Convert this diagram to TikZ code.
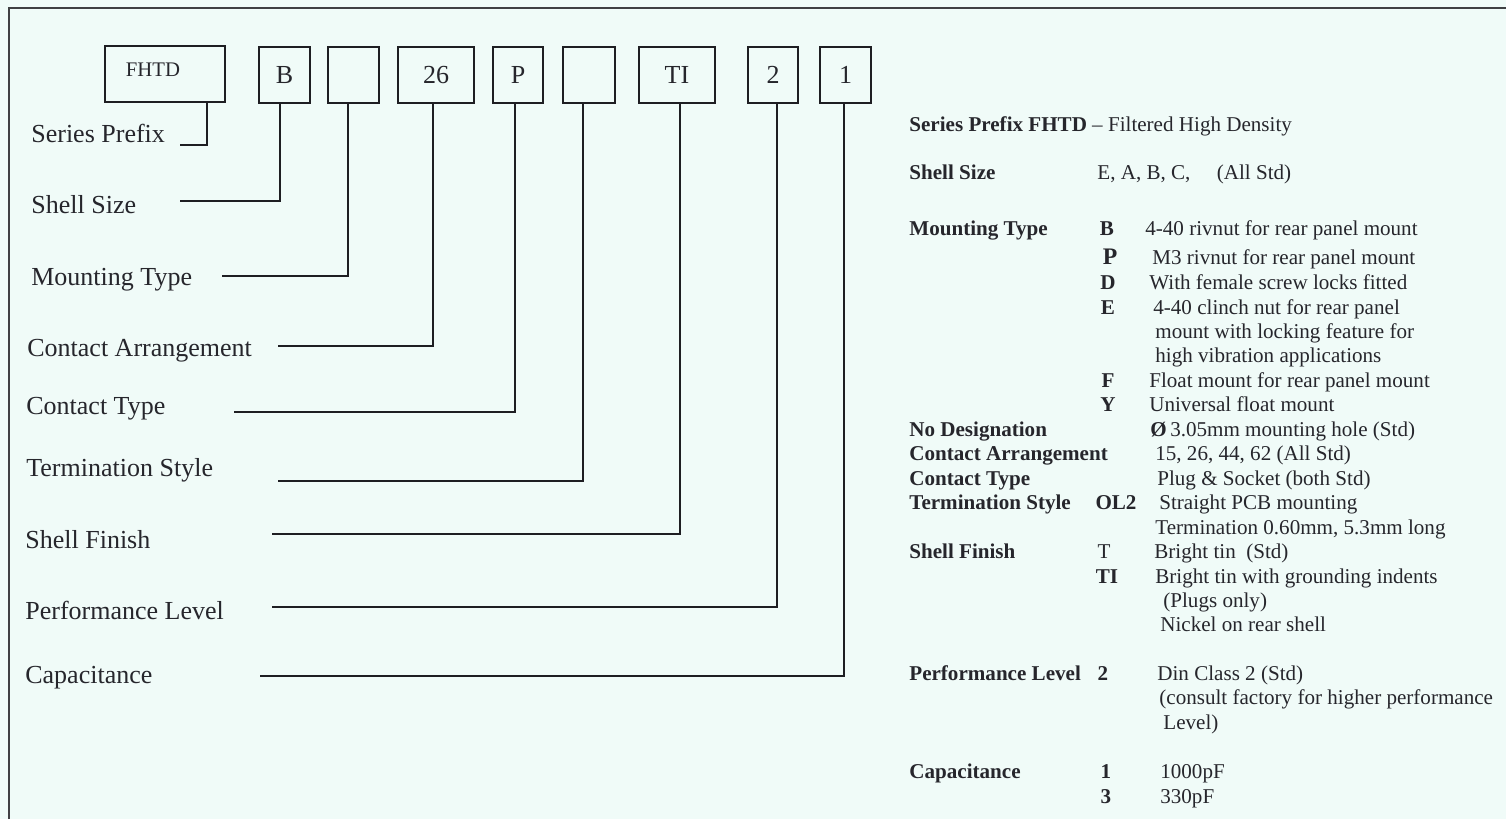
\documentclass[tikz,border=0pt]{standalone}
\usepackage{fontspec}
\setmainfont{Liberation Serif}
\usepackage{tikz}
\usetikzlibrary{positioning}
\definecolor{mbg}{HTML}{F0FBF8}
\definecolor{mline}{HTML}{1E1E22}
\definecolor{mtext}{HTML}{26262C}
\tikzset{
  codebox/.style={draw=mline, line width=0.9pt, minimum height=1.12cm, inner sep=0pt,
                  font=\fontsize{14.8}{16}\selectfont, text=mtext},
  lbl/.style={anchor=base west, inner sep=0pt, font=\fontsize{14.8}{16}\selectfont, text=mtext},
  hdr/.style={anchor=base west, inner sep=0pt, font=\fontsize{12}{14}\selectfont\bfseries, text=mtext},
  desctxt/.style={anchor=base west, inner sep=0pt, font=\fontsize{12}{14}\selectfont, text=mtext},
  codech/.style={anchor=base, inner sep=0pt, font=\fontsize{12}{14}\selectfont\bfseries, text=mtext},
  link/.style={draw=mline, line width=0.9pt},
  frame/.style={draw=mline!85, line width=1pt},
}

\begin{document}
\begin{tikzpicture}[x=0.02cm, y=-0.02cm]
    \useasboundingbox (0,0) rectangle (1506,819);
    \fill[mbg] (0,0) rectangle (1506,819);
    \draw[frame] (9,819) -- (9,8) -- (1506,8);

    % part number boxes
    \node[codebox, minimum width=2.4cm] (bxPrefix) at (165,74) {};
    \node[inner sep=0pt, font=\fontsize{11.8}{13}\selectfont, text=mtext] (tPrefix) at (153,70) {FHTD};
    \node[codebox, minimum width=1.02cm] (bxShell) at (284.5,75) {B};
    \node[codebox, minimum width=1.02cm] (bxMount) at (353.5,75) {};
    \node[codebox, minimum width=1.52cm] (bxArr) at (436,75) {26};
    \node[codebox, minimum width=1.0cm] (bxType) at (518,75) {P};
    \node[codebox, minimum width=1.04cm] (bxTerm) at (589,75) {};
    \node[codebox, minimum width=1.52cm] (bxFinish) at (677,75) {TI};
    \node[codebox, minimum width=1.0cm] (bxPerf) at (773,75) {2};
    \node[codebox, minimum width=1.02cm] (bxCap) at (845.5,75) {1};

    % field names
    \node[lbl] (lbPrefix) at (31,142) {Series Prefix};
    \node[lbl] (lbShell) at (31,213) {Shell Size};
    \node[lbl] (lbMount) at (31,285) {Mounting Type};
    \node[lbl] (lbArr) at (27,356) {Contact Arrangement};
    \node[lbl] (lbType) at (26,414) {Contact Type};
    \node[lbl] (lbTerm) at (26,476) {Termination Style};
    \node[lbl] (lbFinish) at (25,548) {Shell Finish};
    \node[lbl] (lbPerf) at (25,619) {Performance Level};
    \node[lbl] (lbCap) at (25,683) {Capacitance};

    % line ends
    \coordinate (enPrefix) at (180,145);
    \coordinate (enShell) at (180,201);
    \coordinate (enMount) at (222,276);
    \coordinate (enArr) at (278,346);
    \coordinate (enType) at (234,412);
    \coordinate (enTerm) at (278,481);
    \coordinate (enFinish) at (272,534);
    \coordinate (enPerf) at (272,607);
    \coordinate (enCap) at (260,676);

    \draw[link] ([xshift=-0.38cm]bxPrefix.south east) |- (enPrefix);
    \draw[link] ([xshift=-0.09cm]bxShell.south) |- (enShell);
    \draw[link] ([xshift=-0.11cm]bxMount.south) |- (enMount);
    \draw[link] ([xshift=-0.06cm]bxArr.south) |- (enArr);
    \draw[link] ([xshift=-0.06cm]bxType.south) |- (enType);
    \draw[link] ([xshift=-0.12cm]bxTerm.south) |- (enTerm);
    \draw[link] ([xshift=0.06cm]bxFinish.south) |- (enFinish);
    \draw[link] ([xshift=0.08cm]bxPerf.south) |- (enPerf);
    \draw[link] ([xshift=-0.03cm]bxCap.south) |- (enCap);

    % ordering key
    \node[desctxt] (kPrefix) at (909,131) {\textbf{Series Prefix FHTD} -- Filtered High Density};
    \node[hdr] (kShell) at (909,179) {Shell Size};
    \node[desctxt] (dShell) at (1097,179) {E, A, B, C,\quad\ (All Std)};

    \node[hdr] (kMount) at (909,235) {Mounting Type};
    \node[codech] (cB) at (1107,235) {B};
    \node[desctxt] (dB) at (1145,235) {4-40 rivnut for rear panel mount};
    \node[codech, font=\fontsize{13.5}{14}\selectfont\bfseries] (cP) at (1110,264) {P};
    \node[desctxt] (dP) at (1152,264) {M3 rivnut for rear panel mount};
    \node[codech] (cD) at (1108,289) {D};
    \node[desctxt] (dD) at (1149,289) {With female screw locks fitted};
    \node[codech] (cE) at (1108,314) {E};
    \node[desctxt] (dE1) at (1153,314) {4-40 clinch nut for rear panel};
    \node[desctxt] (dE2) at (1155,338) {mount with locking feature for};
    \node[desctxt] (dE3) at (1155,362) {high vibration applications};
    \node[codech] (cF) at (1108,387) {F};
    \node[desctxt] (dF) at (1149,387) {Float mount for rear panel mount};
    \node[codech] (cY) at (1108,411) {Y};
    \node[desctxt] (dY) at (1149,411) {Universal float mount};

    \node[hdr] (kNoDes) at (909,436) {No Designation};
    \node[desctxt] (dNoDes) at (1150,436) {\textbf{Ø}\,3.05mm mounting hole (Std)};
    \node[hdr] (kArr) at (909,460) {Contact Arrangement};
    \node[desctxt] (dArr) at (1155,460) {15, 26, 44, 62 (All Std)};
    \node[hdr] (kType) at (909,485) {Contact Type};
    \node[desctxt] (dType) at (1157,485) {Plug \& Socket (both Std)};

    \node[hdr] (kTerm) at (909,509) {Termination Style};
    \node[codech] (cOL) at (1116,509) {OL2};
    \node[desctxt] (dOL1) at (1159,509) {Straight PCB mounting};
    \node[desctxt] (dOL2) at (1155,534) {Termination 0.60mm, 5.3mm long};

    \node[hdr] (kFinish) at (909,558) {Shell Finish};
    \node[codech, font=\fontsize{12}{14}\selectfont] (cT) at (1104,558) {T};
    \node[desctxt] (dT) at (1154,558) {Bright tin\ \ (Std)};
    \node[codech] (cTI) at (1107,583) {TI};
    \node[desctxt] (dTI1) at (1155,583) {Bright tin with grounding indents};
    \node[desctxt] (dTI2) at (1163,607) {(Plugs only)};
    \node[desctxt] (dTI3) at (1160,631) {Nickel on rear shell};

    \node[hdr] (kPerf) at (909,680) {Performance Level};
    \node[codech] (c2) at (1103,680) {2};
    \node[desctxt] (dPerf1) at (1157,680) {Din Class 2 (Std)};
    \node[desctxt] (dPerf2) at (1159,704) {(consult factory for higher performance};
    \node[desctxt] (dPerf3) at (1163,729) {Level)};

    \node[hdr] (kCap) at (909,778) {Capacitance};
    \node[codech] (c1) at (1106,778) {1};
    \node[desctxt] (d1) at (1160,778) {1000pF};
    \node[codech] (c3) at (1106,803) {3};
    \node[desctxt] (d3) at (1160,803) {330pF};
\end{tikzpicture}
\end{document}
